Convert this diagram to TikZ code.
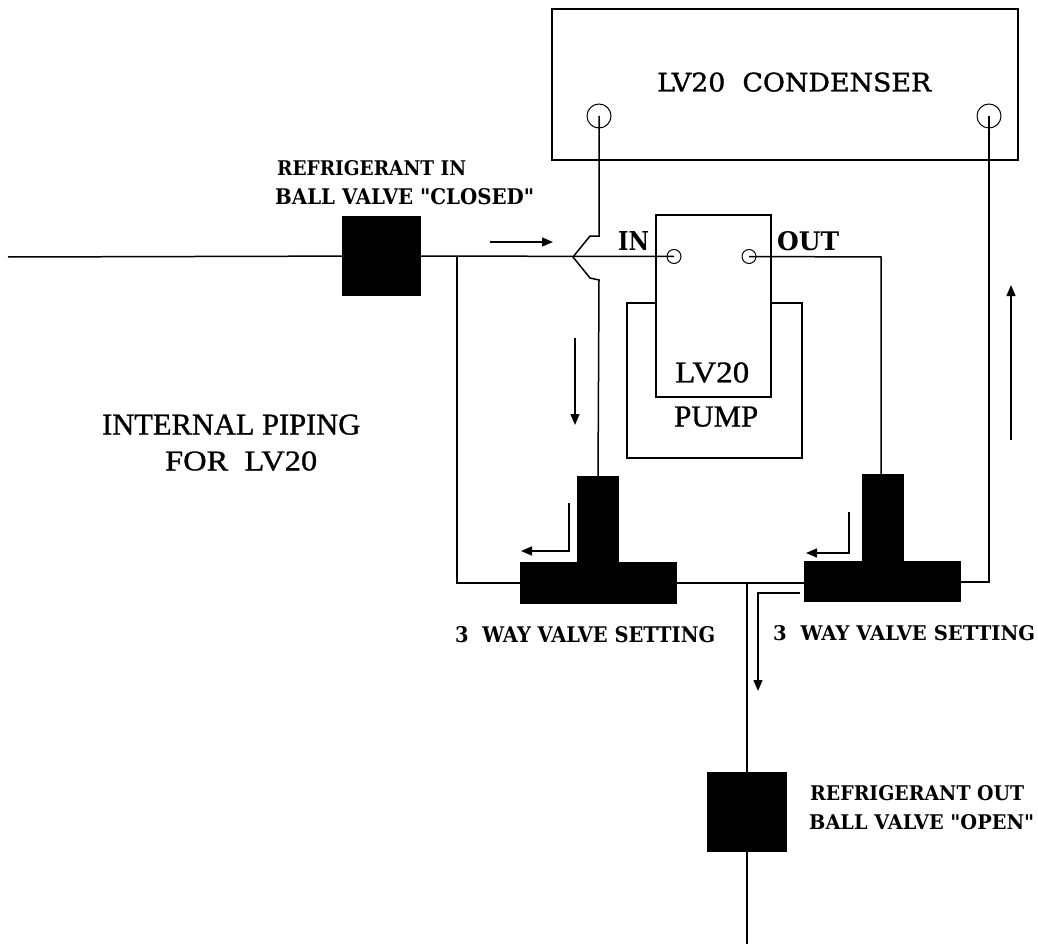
\documentclass[tikz,border=0pt]{standalone}
\usepackage{fontspec}
\setmainfont{DejaVu Serif}
\usetikzlibrary{arrows.meta}
\newfontfamily\slabfont{DejaVu Serif}
\newfontfamily\medslab[FakeBold=1.2]{DejaVu Serif}
\newfontfamily\thinlbl[FakeBold=1]{Liberation Serif}
\newcommand\boldlbl{\slabfont\bfseries}
\newcommand\medlbl{\medslab}
\newcommand\lbl[7]{%
  \pgfmathsetmacro\lblw{#4-#2}\pgfmathsetmacro\lblh{#5-#3}%
  \node[anchor=south west,inner sep=0pt] (#1) at (#2,#5) {\resizebox{\lblw pt}{\lblh pt}{#6{}#7}};}
\tikzset{
  pipe/.style={line width=1.5pt,black},
  outline/.style={draw=black,line width=1.7pt,inner sep=0pt},
  solidblock/.style={fill=black,draw=none,inner sep=0pt},
  port/.style={circle,draw=black,line width=1pt,inner sep=0pt},
  flow/.style={line width=1.4pt,black,-{Stealth[length=11pt,width=9pt,inset=0pt]}}
}
\begin{document}
\begin{tikzpicture}[x=1pt,y=-1pt]
\useasboundingbox (0,0) rectangle (1038,944);
\fill[white] (0,0) rectangle (1038,944);

% condenser
\node[outline,minimum width=466pt,minimum height=151pt] (condenser) at (785,84.5) {};
\node[port,minimum size=24pt] (condIn) at (599,116) {};
\node[port,minimum size=24pt] (condOut) at (989,116) {};

% pump
\draw[line width=1.7pt] (656,303) -- (627,303) -- (627,458) -- (802,458) -- (802,303) -- (771,303);
\node[outline,minimum width=115pt,minimum height=182pt] (pump) at (713.5,306) {};
\node[port,minimum size=14pt] (pumpIn) at (674,256.5) {};
\node[port,minimum size=14pt] (pumpOut) at (749,256.5) {};

% blocks
\node[solidblock,minimum width=79pt,minimum height=80pt] (valveIn) at (381.5,256) {};
\node[solidblock,minimum width=80pt,minimum height=80pt] (valveOut) at (747,812) {};
\node[solidblock,minimum width=42pt,minimum height=92pt] (stemL) at (598,522) {};
\node[solidblock,minimum width=157pt,minimum height=42pt] (barL) at (598.5,583) {};
\node[solidblock,minimum width=42pt,minimum height=90pt] (stemR) at (883,519) {};
\node[solidblock,minimum width=157pt,minimum height=41pt] (barR) at (882.5,581.5) {};

% named points
\coordinate (inStart) at (8,257);
\coordinate (hopTip) at (573,257);
\coordinate (hopA) at (599,236);
\coordinate (hopB) at (590,236);
\coordinate (hopC) at (590,278);
\coordinate (hopD) at (599,280);
\coordinate (teeIn) at (457,257);
\coordinate (teeOut) at (747,582);
\coordinate (outEnd) at (747,944);
\coordinate (outCorner) at (881,257);
\coordinate (stemRTop) at (881,480);
\coordinate (stemLTop) at (598,480);

% pipes
\draw[pipe] (inStart) -- (valveIn.center) -- (pumpIn.center);
\draw[pipe] (condIn.center) -- (hopA) -- (hopB) -- (hopTip) -- (hopC) -- (hopD) -- (stemLTop);
\draw[pipe] (pumpOut.center) -- (outCorner) -- (stemRTop);
\draw[pipe] (teeIn) |- (barL.west);
\draw[pipe] (barL.east) -- (barR.west |- barL.east);
\draw[pipe] (teeOut) -- (outEnd);
\draw[pipe] (barR.east |- teeOut) -| (condOut.center);

% flow arrows
\coordinate (a1s) at (490,242); \coordinate (a1e) at (553,242);
\coordinate (a2s) at (575,338); \coordinate (a2e) at (575,425);
\coordinate (a3s) at (1011,440); \coordinate (a3e) at (1011,285);
\coordinate (a4s) at (569,503); \coordinate (a4c) at (569,551); \coordinate (a4e) at (521,551);
\coordinate (a5s) at (849,512); \coordinate (a5c) at (849,553); \coordinate (a5e) at (806,553);
\coordinate (a6s) at (800,593); \coordinate (a6c) at (758,593); \coordinate (a6e) at (758,691);
\draw[flow] (a1s) -- (a1e);
\draw[flow] (a2s) -- (a2e);
\draw[flow] (a3s) -- (a3e);
\draw[flow] (a4s) -- (a4c) -- (a4e);
\draw[flow] (a5s) -- (a5c) -- (a5e);
\draw[flow] (a6s) -- (a6c) -- (a6e);

% labels
\lbl{t1}{657}{73}{931}{92}{\medlbl}{LV20\ \ CONDENSER}
\lbl{t2}{277}{161}{466}{176}{\boldlbl}{REFRIGERANT IN}
\lbl{t3}{275}{189}{534}{205}{\boldlbl}{BALL VALVE "CLOSED"}
\lbl{t4}{618}{232}{649}{251}{\boldlbl}{IN}
\lbl{t5}{777}{232}{839}{251}{\boldlbl}{OUT}
\lbl{t6}{675}{363}{749}{383}{\thinlbl}{LV20}
\lbl{t7}{674}{407}{758}{427}{\thinlbl}{PUMP}
\lbl{t8}{102}{415}{360}{435}{\thinlbl}{INTERNAL PIPING}
\lbl{t9}{165}{452}{317}{471}{\thinlbl}{FOR\ \ LV20}
\lbl{t10}{455}{627}{715}{643}{\boldlbl}{3\ \ WAY VALVE SETTING}
\lbl{t11}{773}{626}{1035}{641}{\boldlbl}{3\ \ WAY VALVE SETTING}
\lbl{t12}{810}{786}{1024}{801}{\boldlbl}{REFRIGERANT OUT}
\lbl{t13}{809}{815}{1034}{830}{\boldlbl}{BALL VALVE "OPEN"}
\end{tikzpicture}
\end{document}
